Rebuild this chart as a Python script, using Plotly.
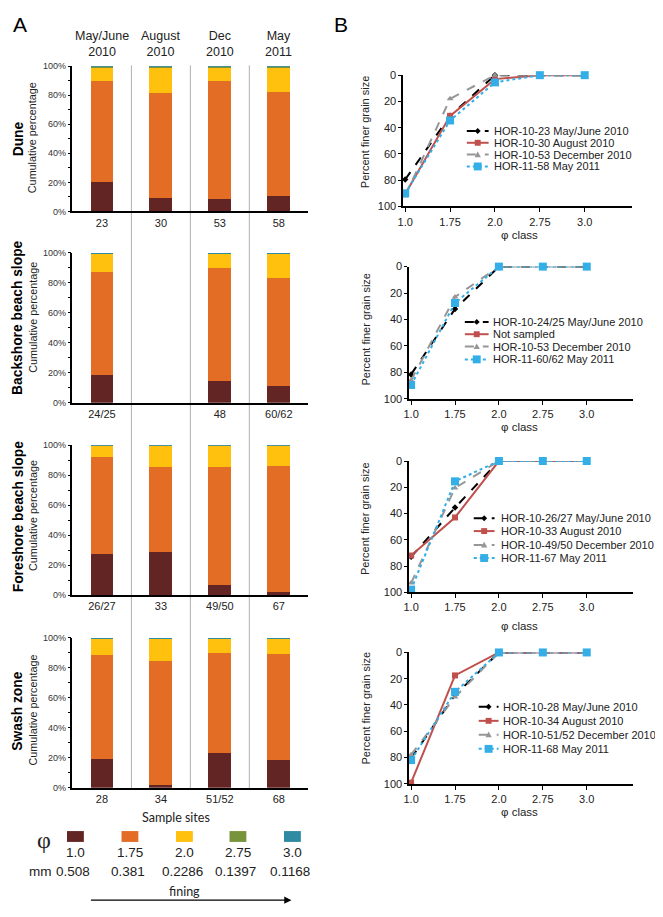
import plotly.graph_objects as go

# ---------------- data ----------------
sample_dates = ["May/June 2010", "August 2010", "Dec 2010", "May 2011"]
zones = ["Dune", "Backshore beach slope", "Foreshore beach slope", "Swash zone"]

dune_sites = ["23", "30", "53", "58"]
backshore_sites = ["24/25", "", "48", "60/62"]
foreshore_sites = ["26/27", "33", "49/50", "67"]
swash_sites = ["28", "34", "51/52", "68"]

phi_classes = ["1.0", "1.75", "2.0", "2.75", "3.0"]
mm_sizes = ["0.508", "0.381", "0.2286", "0.1397", "0.1168"]
phi_colors = ["#632523", "#E46D25", "#FFC10E", "#77933C", "#2F8AA3"]

# percentage per phi class (rows: 1.0, 1.75, 2.0, 2.75, 3.0; columns: dates)
dune_pct = [[20.5, 9.5, 8.2, 10.4],
            [69.5, 71.8, 81.4, 71.6],
            [9.2, 17.9, 9.6, 17.2],
            [0.3, 0.3, 0.3, 0.3],
            [0.5, 0.5, 0.5, 0.5]]
backshore_pct = [[18.7, None, 14.3, 11.0],
                 [68.6, None, 75.8, 72.5],
                 [12.4, None, 9.6, 16.0],
                 [0.1, None, 0.1, 0.3],
                 [0.2, None, 0.2, 0.2]]
foreshore_pct = [[27.3, 28.6, 7.0, 2.2],
                 [65.0, 57.1, 78.7, 84.2],
                 [7.5, 14.1, 14.1, 13.2],
                 [0.1, 0.1, 0.1, 0.2],
                 [0.1, 0.1, 0.1, 0.2]]
swash_pct = [[19.0, 1.5, 22.8, 18.4],
             [69.6, 82.7, 66.9, 70.6],
             [10.9, 15.3, 9.8, 10.5],
             [0.2, 0.2, 0.2, 0.2],
             [0.3, 0.3, 0.3, 0.3]]

# percent finer grain size per phi class (B panels)
dune_finer = [[79.5, 31, 0, 0, 0], [90.5, 31, 3, 0, 0], [92, 18, 0, 0, 0], [90, 34.5, 5.5, 0, 0]]
backshore_finer = [[81.5, 32, 0, 0, 0], None, [86, 23, 0, 0, 0], [89.5, 27.5, 0, 0, 0]]
foreshore_finer = [[73, 35.5, 0, 0, 0], [72, 43, 0, 0, 0], [93, 20.5, 0, 0, 0], [98, 15.5, 0, 0, 0]]
swash_finer = [[80.5, 32.5, 0, 0, 0], [99.2, 17.5, 0, 0, 0], [78, 34, 0, 0, 0], [82, 30, 0, 0, 0]]

dune_legend = ["HOR-10-23 May/June 2010", "HOR-10-30 August 2010",
               "HOR-10-53 December 2010", "HOR-11-58 May 2011"]
backshore_legend = ["HOR-10-24/25 May/June 2010", "Not sampled",
                    "HOR-10-53 December 2010", "HOR-11-60/62 May 2011"]
foreshore_legend = ["HOR-10-26/27 May/June 2010", "HOR-10-33 August 2010",
                    "HOR-10-49/50 December 2010", "HOR-11-67 May 2011"]
swash_legend = ["HOR-10-28 May/June 2010", "HOR-10-34 August 2010",
                "HOR-10-51/52 December 2010", "HOR-11-68 May 2011"]

# ---------------- layout helpers ----------------
# the page body has an 8px margin, so the figure is 8px smaller and offset
OFF = 8
W, H = 663 - OFF, 917 - OFF
FONT = "Liberation Sans, Arial, sans-serif"
SANS2 = "Lato, Open Sans, sans-serif"


def px(x):
    return (x - OFF) / W


def py(y):
    return 1 - (y - OFF) / H


series_styles = [
    dict(color="#000000", dash="dash", symbol="diamond", size=5),
    dict(color="#C0504D", dash="solid", symbol="square", size=6),
    dict(color="#969696", dash="dash", symbol="triangle-up", size=6),
    dict(color="#33AEE6", dash="dot", symbol="square", size=8),
]

fig = go.Figure()
layout = dict(width=W, height=H, margin=dict(l=0, r=0, t=0, b=0, pad=0),
              paper_bgcolor="white", plot_bgcolor="white", barmode="stack",
              showlegend=False, font=dict(family=FONT, color="#222"))
shapes, annots = [], []


def ann(text, x, y, size, xanchor="center", yanchor="middle", angle=0, family=FONT,
        color="#222", xref="paper"):
    annots.append(dict(text=text, x=x if xref != "paper" else px(x), y=py(y), xref=xref,
                       yref="paper", showarrow=False, xanchor=xanchor, yanchor=yanchor,
                       textangle=angle, font=dict(size=size, family=family, color=color)))


# ---------------- panel A: stacked bars ----------------
bar_tops = [61, 250, 445, 640]
bar_bots = [208, 402, 597, 792]
zone_label_y = [134, 316, 517, 714]
all_pct = [dune_pct, backshore_pct, foreshore_pct, swash_pct]
all_sites = [dune_sites, backshore_sites, foreshore_sites, swash_sites]

for z in range(4):
    xa, ya = f"x{z+1}", f"y{z+1}"
    for k in range(5):
        fig.add_trace(go.Bar(x=sample_dates, y=all_pct[z][k], marker_color=phi_colors[k],
                             marker_line_width=0, width=0.387, xaxis=xa, yaxis=ya,
                             showlegend=False, hoverinfo="skip"))
    xk = "xaxis" if z == 0 else f"xaxis{z+1}"
    yk = "yaxis" if z == 0 else f"yaxis{z+1}"
    layout[xk] = dict(domain=[px(67), px(305)], anchor=ya, type="category",
                      categoryarray=sample_dates, categoryorder="array", range=[-0.5, 3.5],
                      tickvals=sample_dates, ticktext=all_sites[z], ticks="",
                      showline=True, linecolor="black", linewidth=2, showgrid=False,
                      zeroline=False, tickfont=dict(size=11, color="#222"), fixedrange=True)
    layout[yk] = dict(domain=[py(bar_bots[z]), py(bar_tops[z])], anchor=xa, range=[0, 100],
                      tickmode="linear", tick0=0, dtick=20, ticksuffix="%",
                      ticks="outside", ticklen=3, tickcolor="black",
                      minor=dict(ticks="outside", ticklen=3, dtick=10, tick0=0, tickcolor="black"),
                      showline=True, linecolor="black", linewidth=1.5, showgrid=False,
                      zeroline=False, tickfont=dict(size=9, color="#333"), fixedrange=True)
    ann(f"<b>{zones[z]}</b>", 12, zone_label_y[z], 13.8, angle=-90, color="black")
    ann("Cumulative percentage", 27, zone_label_y[z] - 1, 10.8, angle=-90)

# column headers
for d in sample_dates:
    ann(d.replace(" ", "<br>"), d, 38, 12.5, xref="x")

# separators between sampling dates
for sx in [0.5, 1.5, 2.5]:
    shapes.append(dict(type="line", xref="x", yref="paper", x0=sx, x1=sx,
                       y0=py(793), y1=py(60), line=dict(color="#B0B0B0", width=1), layer="below"))

ann("Sample sites", 172, 822, 12.5, family=SANS2)
ann("A", 14, 19, 21, color="black")
ann("B", 338, 19, 21, color="black")

# phi legend
box_cx = [70, 125, 180, 234, 289]
ann("φ", 38, 845, 24, family="Liberation Serif, serif")
ann("mm", 35, 877, 13.5)
for k in range(5):
    shapes.append(dict(type="rect", xref="paper", yref="paper", x0=px(box_cx[k] - 8.5),
                       x1=px(box_cx[k] + 8.5), y0=py(847), y1=py(836),
                       fillcolor=phi_colors[k], line=dict(width=0)))
    ann(phi_classes[k], box_cx[k], 857.5, 13.5)
    ann(mm_sizes[k], box_cx[k] - 2, 877, 13.5)
ann("fining", 180, 897, 12.5, family=SANS2)
annots.append(dict(text="", x=px(288), y=py(906), xref="paper", yref="paper", showarrow=True,
                   ax=-202, ay=0, arrowhead=2, arrowsize=1.2, arrowwidth=1.2, arrowcolor="black"))

# ---------------- panel B: line charts ----------------
b_x = [(401, 632), (407, 633), (407, 633), (407, 633)]
b_y = [(70, 203), (264, 398), (461, 594), (655, 788)]
b_ytitle = [127, 327, 519, 711]
b_xtitle = [232, 427, 628, 817]
all_finer = [dune_finer, backshore_finer, foreshore_finer, swash_finer]
all_legend = [dune_legend, backshore_legend, foreshore_legend, swash_legend]
leg_geom = [(465, 487, 490, [126.5, 138.5, 150.5, 162.5]),
            (463, 487, 489, [320, 332.5, 345, 358]),
            (472, 493, 497, [519, 532, 546, 559.3]),
            (477, 497, 500, [710, 724.3, 738.3, 752.7])]

for b in range(4):
    n = b + 5
    xa, ya = f"x{n}", f"y{n}"
    for s in range(4):
        vals = all_finer[b][s]
        if vals is None:
            continue
        st = series_styles[s]
        fig.add_trace(go.Scatter(x=phi_classes, y=vals, mode="lines+markers",
                                 line=dict(color=st["color"], dash=st["dash"], width=2),
                                 marker=dict(symbol=st["symbol"], size=st["size"], color=st["color"]),
                                 cliponaxis=False, xaxis=xa, yaxis=ya, showlegend=False,
                                 hoverinfo="skip"))
    layout[f"xaxis{n}"] = dict(domain=[px(b_x[b][0]), px(b_x[b][1])], anchor=ya, type="category",
                               categoryarray=phi_classes, categoryorder="array",
                               range=[-0.04, 5.06], ticks="outside", ticklen=4, tickcolor="black",
                               showline=True, linecolor="black", linewidth=2, showgrid=False,
                               zeroline=False, tickfont=dict(size=11, color="#222"), fixedrange=True)
    layout[f"yaxis{n}"] = dict(domain=[py(b_y[b][1]), py(b_y[b][0])], anchor=xa, range=[100, 0],
                               tickmode="linear", tick0=0, dtick=20, ticks="outside", ticklen=3,
                               tickcolor="black", showline=True, linecolor="black", linewidth=2,
                               showgrid=False, zeroline=False,
                               tickfont=dict(size=11, color="#222"), fixedrange=True)
    ann("Percent finer grain size", 363, b_ytitle[b], 11, angle=-90)
    ann("φ class", 518, b_xtitle[b], 11.5)
    # legend
    lx0, lx1, tx, rows = leg_geom[b]
    for s in range(4):
        st = series_styles[s]
        yy = rows[s]
        shapes.append(dict(type="line", xref="paper", yref="paper", x0=px(lx0), x1=px(lx1),
                           y0=py(yy), y1=py(yy), line=dict(color=st["color"], width=2, dash=st["dash"])))
        cx = (lx0 + lx1) / 2
        if st["symbol"] == "square":
            h = st["size"] / 2
            shapes.append(dict(type="rect", xref="paper", yref="paper", x0=px(cx - h), x1=px(cx + h),
                               y0=py(yy + h), y1=py(yy - h), fillcolor=st["color"], line=dict(width=0)))
        elif st["symbol"] == "diamond":
            h = 3
            path = (f"M {px(cx)} {py(yy - h)} L {px(cx + h)} {py(yy)} L {px(cx)} {py(yy + h)} "
                    f"L {px(cx - h)} {py(yy)} Z")
            shapes.append(dict(type="path", xref="paper", yref="paper", path=path,
                               fillcolor=st["color"], line=dict(width=0)))
        else:
            h = 3.2
            path = (f"M {px(cx)} {py(yy - h)} L {px(cx + h)} {py(yy + h * 0.8)} "
                    f"L {px(cx - h)} {py(yy + h * 0.8)} Z")
            shapes.append(dict(type="path", xref="paper", yref="paper", path=path,
                               fillcolor=st["color"], line=dict(width=0)))
        ann(all_legend[b][s], tx, yy, 11, xanchor="left")

layout["shapes"] = shapes
layout["annotations"] = annots
fig.update_layout(**layout)
fig.write_html("out.html")
